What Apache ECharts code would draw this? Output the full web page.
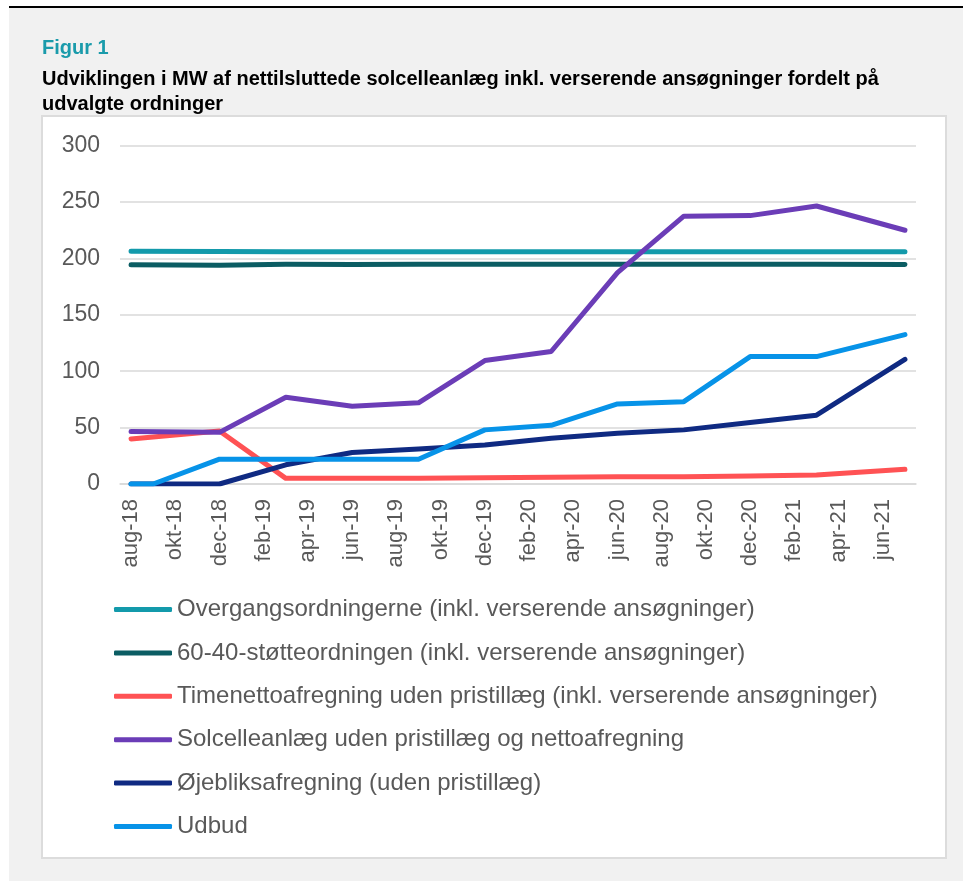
<!DOCTYPE html>
<html>
<head>
<meta charset="utf-8">
<script src="https://cdn.jsdelivr.net/npm/echarts@6/dist/echarts.min.js"></script>
<style>
  body { margin: 0; background: #ffffff; }
  #bg { position: absolute; left: 9px; top: 6px; width: 954px; height: 875px; background: #f1f1f1; border-top: 2px solid #000; box-sizing: border-box; }
  #box { position: absolute; left: 41px; top: 115px; width: 906px; height: 744px; background: #fff; border: 2px solid #dcdcdc; box-sizing: border-box; }
  #chart { position: absolute; left: 0; top: 0; width: 963px; height: 881px; }
</style>
</head>
<body>
<div id="bg"></div>
<div id="box"></div>
<div id="chart"></div>
<script>
// x-axis categories: monthly, aug-18 .. jul-21
const months = [
  'aug-18', 'sep-18', 'okt-18', 'nov-18', 'dec-18', 'jan-19', 'feb-19', 'mar-19', 'apr-19', 'maj-19', 'jun-19', 'jul-19',
  'aug-19', 'sep-19', 'okt-19', 'nov-19', 'dec-19', 'jan-20', 'feb-20', 'mar-20', 'apr-20', 'maj-20', 'jun-20', 'jul-20',
  'aug-20', 'sep-20', 'okt-20', 'nov-20', 'dec-20', 'jan-21', 'feb-21', 'mar-21', 'apr-21', 'maj-21', 'jun-21', 'jul-21'
]

// observation dates
const obsMonths = ['aug-18', 'dec-18', 'mar-19', 'jun-19', 'sep-19', 'dec-19', 'mar-20', 'jun-20', 'sep-20', 'dec-20', 'mar-21', 'jul-21']
const udbudMonths = ['aug-18', 'sep-18', 'dec-18', 'mar-19', 'jun-19', 'sep-19', 'dec-19', 'mar-20', 'jun-20', 'sep-20', 'dec-20', 'mar-21', 'jul-21']

// MW
const overgang = [206.3, 206.2, 205.9, 205.9, 205.9, 205.9, 205.9, 205.9, 205.9, 205.9, 205.9, 205.9]
const stoette6040 = [194.5, 194, 194.8, 194.6, 194.8, 194.8, 194.8, 194.8, 194.8, 194.9, 194.9, 194.6]
const timenetto = [40, 47, 5, 5, 5, 5.5, 6, 6.5, 6.5, 7, 8, 13]
const solcelle = [46.5, 45.8, 77, 69, 72, 109.5, 117.5, 187.5, 237.5, 238, 246.5, 225]
const oejebliks = [0, 0, 17, 28, 31, 34.5, 40.5, 45, 48, 54.5, 61, 110.5]
const udbud = [0, 0, 22, 22, 22, 22, 48, 52, 71, 73, 113, 113, 132.5]

const seriesDefs = [
  { name: 'Overgangsordningerne (inkl. verserende ansøgninger)', x: obsMonths, y: overgang, color: '#139aab' },
  { name: '60-40-støtteordningen (inkl. verserende ansøgninger)', x: obsMonths, y: stoette6040, color: '#0b5d63' },
  { name: 'Timenettoafregning uden pristillæg (inkl. verserende ansøgninger)', x: obsMonths, y: timenetto, color: '#ff5254' },
  { name: 'Solcelleanlæg uden pristillæg og nettoafregning', x: obsMonths, y: solcelle, color: '#6b3db7' },
  { name: 'Øjebliksafregning (uden pristillæg)', x: obsMonths, y: oejebliks, color: '#0f2a82' },
  { name: 'Udbud', x: udbudMonths, y: udbud, color: '#0793e8' }
]

const font = 'Liberation Sans, Arial, sans-serif'
const chart = echarts.init(document.getElementById('chart'))
const option = {
  textStyle: { fontFamily: font },
  title: [
    {
      text: 'Figur 1',
      left: 42,
      top: 38,
      padding: 0,
      textStyle: { color: '#1a9bab', fontSize: 20, fontWeight: 'bold', fontFamily: font }
    },
    {
      text: 'Udviklingen i MW af nettilsluttede solcelleanlæg inkl. verserende ansøgninger fordelt på\nudvalgte ordninger',
      left: 42,
      top: 66.5,
      padding: 0,
      textStyle: { color: '#000', fontSize: 20, lineHeight: 25, fontWeight: 'bold', fontFamily: font }
    }
  ],
  legend: {
    orient: 'vertical',
    left: 114,
    top: 597.5,
    padding: 0,
    icon: 'roundRect',
    itemWidth: 58,
    itemHeight: 5,
    itemGap: 19.4,
    textStyle: { fontSize: 24, color: '#595959', lineHeight: 24 },
    data: seriesDefs.map(s => s.name)
  },
  grid: {
    left: 120,
    right: 47,
    top: 145.7,
    bottom: 397,
    containLabel: false
  },
  xAxis: {
    type: 'category',
    data: months,
    boundaryGap: true,
    axisLine: { lineStyle: { color: '#d9d9d9', width: 1.5 } },
    axisTick: { interval: 1, length: 6, lineStyle: { color: '#d9d9d9', width: 1.5 } },
    axisLabel: { interval: 1, rotate: 90, margin: 15, fontSize: 22, color: '#595959' }
  },
  yAxis: {
    type: 'value',
    min: 0,
    max: 300,
    interval: 50,
    axisLine: { show: false },
    axisTick: { show: false },
    axisLabel: { fontSize: 23, color: '#595959', margin: 20 },
    splitLine: { lineStyle: { color: '#d9d9d9', width: 1.5 } }
  },
  series: seriesDefs.map(s => ({
    name: s.name,
    type: 'line',
    data: s.x.map((m, i) => [m, s.y[i]]),
    symbol: 'none',
    color: s.color,
    lineStyle: { width: 5, color: s.color, cap: 'round', join: 'round' },
    emphasis: { disabled: true }
  }))
}
chart.setOption(option)

window.addEventListener('resize', () => {
  chart.resize()
})
</script>
</body>
</html>
